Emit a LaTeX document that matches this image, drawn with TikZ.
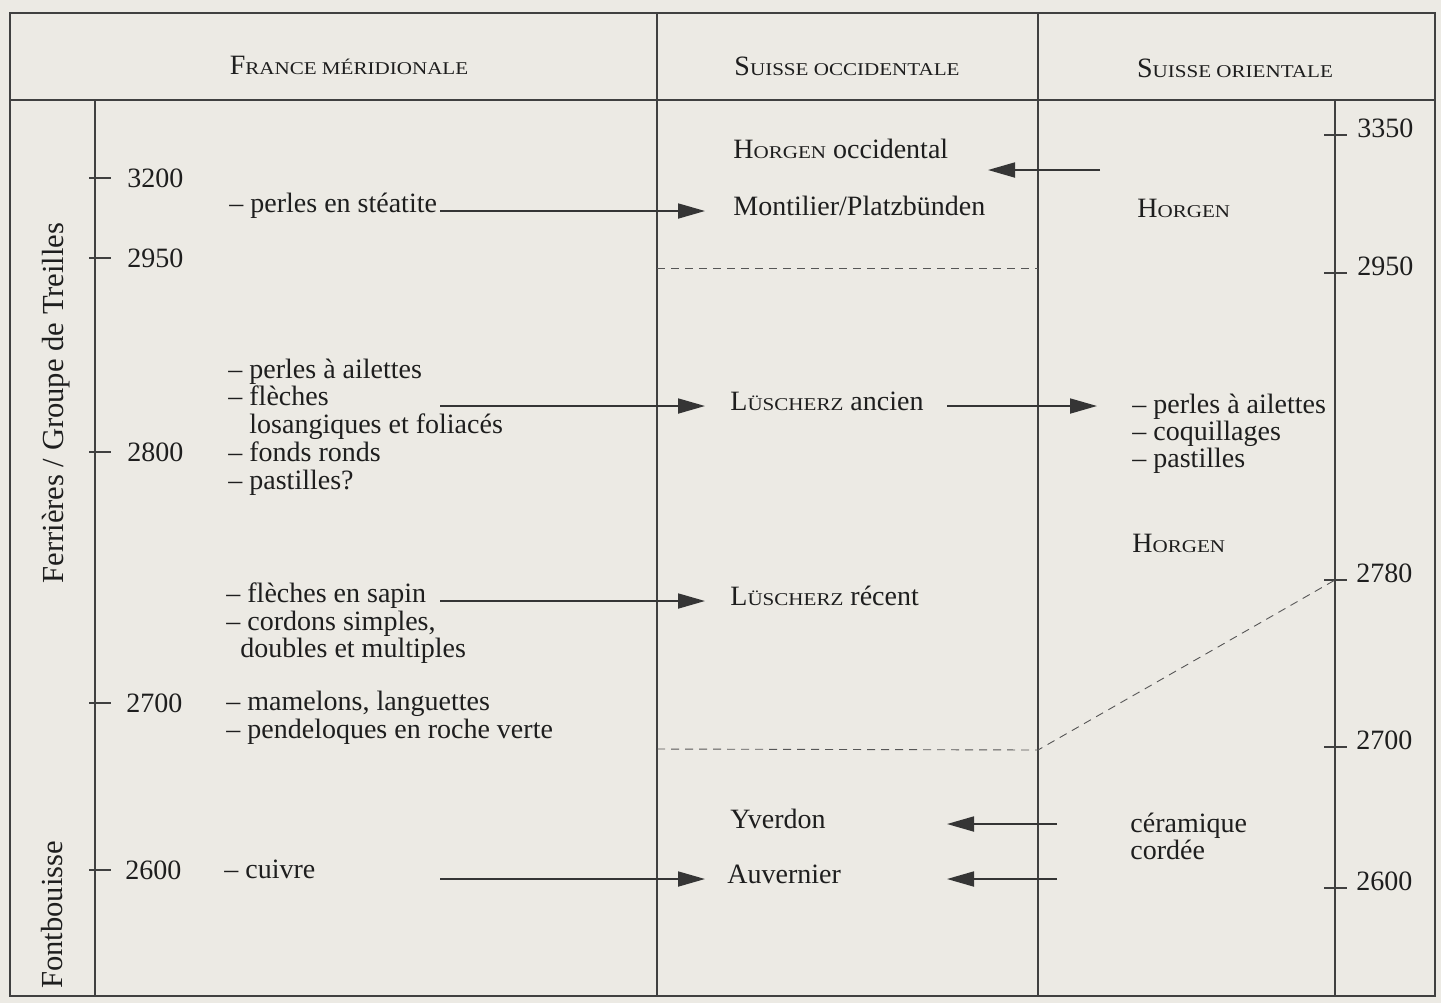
\documentclass[tikz,border=0pt]{standalone}
\usepackage{fontspec}
\setmainfont{Liberation Serif}
\newfontfamily\scfont[FakeStretch=1.17]{Liberation Serif}
\usetikzlibrary{arrows.meta}
\definecolor{papier}{RGB}{236,234,228}
\definecolor{encre}{RGB}{30,30,30}
\newcommand{\petcap}[2]{#1{\fontsize{9}{11}\scfont #2}}

\begin{document}
\begin{tikzpicture}[x=0.5pt,y=-0.5pt,
  txt/.style={anchor=base west,inner sep=0pt,text=encre,font=\fontsize{14}{16}\selectfont},
  titre/.style={txt,anchor=base},
  anneeG/.style={txt,anchor=west},
  anneeD/.style={txt},
  vertical/.style={txt,anchor=base,rotate=90,font=\fontsize{15.3}{17}\selectfont},
  trait/.style={encre!85,line width=0.6pt},
  tiret/.style={encre!75,line width=0.45pt,dash pattern=on 4pt off 3pt},
  fleche/.style={encre!90,line width=0.9pt,-{Triangle[length=13.5pt,width=7.5pt]},transform canvas={yshift=2pt}}]
  \fill[papier] (0,0) rectangle (1441,1003); %fond
  \useasboundingbox (0,0) rectangle (1441,1003);
  \draw[trait] (10,13) rectangle (1435,996); %cadre
  \draw[trait] (10,100) -- (1435,100); %ligne des titres
  \draw[trait] (657,13) -- (657,996); %colonne 1 | 2
  \draw[trait] (1038,13) -- (1038,996); %colonne 2 | 3
  \draw[trait] (95,100) -- (95,996); %axe gauche
  \draw[trait] (1335,100) -- (1335,996); %axe droit

  \node[titre] (france) at (349,74) {\petcap{F}{RANCE MÉRIDIONALE}}; %titres
  \node[titre] (suisseOcc) at (847,75) {\petcap{S}{UISSE OCCIDENTALE}};
  \node[titre] (suisseOr) at (1235,77) {\petcap{S}{UISSE ORIENTALE}};

  \node[vertical] (ferrieres) at (63,403) {Ferrières / Groupe de Treilles}; %groupes
  \node[vertical] (fontbouisse) at (62,915) {Fontbouisse};

  \draw[trait] (89,178) -- (111,178); %graduation gauche
  \draw[trait] (89,258) -- (111,258);
  \draw[trait] (89,452) -- (111,452);
  \draw[trait] (89,703) -- (111,703);
  \draw[trait] (89,870) -- (111,870);
  \node[anneeG] (g3200) at (127,178) {3200};
  \node[anneeG] (g2950) at (127,258) {2950};
  \node[anneeG] (g2800) at (127,452) {2800};
  \node[anneeG] (g2700) at (126,703) {2700};
  \node[anneeG] (g2600) at (125,870) {2600};

  \draw[trait] (1324,135) -- (1347,135); %graduation droite
  \draw[trait] (1324,273) -- (1347,273);
  \draw[trait] (1324,580) -- (1347,580);
  \draw[trait] (1324,747) -- (1347,747);
  \draw[trait] (1324,888) -- (1347,888);
  \node[anneeD] (d3350) at (1357,137) {3350};
  \node[anneeD] (d2950) at (1357,275) {2950};
  \node[anneeD] (d2780) at (1356,582) {2780};
  \node[anneeD] (d2700) at (1356,749) {2700};
  \node[anneeD] (d2600) at (1356,890) {2600};

  \draw[tiret] (657,268) -- (1038,268); %limite 2950
  \draw[tiret] (657,749) -- (1038,750) -- (1335,580); %limite 2700/2780

  \node[txt] (steatite) at (229,212) {– perles en stéatite}; %France
  \node[txt] (perlesG) at (228,378) {– perles à ailettes};
  \node[txt] (fleches) at (228,405) {– flèches};
  \node[txt] (losang) at (249,433) {losangiques et foliacés};
  \node[txt] (fonds) at (228,461) {– fonds ronds};
  \node[txt] (pastG) at (228,489) {– pastilles?};
  \node[txt] (sapin) at (226,602) {– flèches en sapin};
  \node[txt] (cordons) at (226,630) {– cordons simples,};
  \node[txt] (doubles) at (240,657) {doubles et multiples};
  \node[txt] (mamelons) at (226,710) {– mamelons, languettes};
  \node[txt] (pendeloques) at (226,738) {– pendeloques en roche verte};
  \node[txt] (cuivre) at (224,878) {– cuivre};

  \node[txt] (horgenOcc) at (733,158) {\petcap{H}{ORGEN} occidental}; %Suisse occ.
  \node[txt] (montilier) at (733,215) {Montilier/Platzbünden};
  \node[txt] (luscherzA) at (730,410) {\petcap{L}{ÜSCHERZ} ancien};
  \node[txt] (luscherzR) at (730,605) {\petcap{L}{ÜSCHERZ} récent};
  \node[txt] (yverdon) at (730,828) {Yverdon};
  \node[txt] (auvernier) at (727,883) {Auvernier};

  \node[txt] (horgenD) at (1137,217) {\petcap{H}{ORGEN}}; %Suisse or.
  \node[txt] (perlesD) at (1132,413) {– perles à ailettes};
  \node[txt] (coquill) at (1132,440) {– coquillages};
  \node[txt] (pastD) at (1132,467) {– pastilles};
  \node[txt] (horgenD2) at (1132,552) {\petcap{H}{ORGEN}};
  \node[txt] (ceramique) at (1130,832) {céramique};
  \node[txt] (cordee) at (1130,859) {cordée};

  \coordinate (gpied) at (440,0); %departs et pointes
  \coordinate (gpointe) at (705,0);
  \coordinate (dpointe) at (947,0);
  \coordinate (dpied) at (1057,0);
  \coordinate (hpied) at (1100,174);
  \coordinate (hpointe) at (988,174);

  \draw[fleche] (montilier.base -| gpied) -- (montilier.base -| gpointe); %fleches
  \draw[fleche] (luscherzA.base -| gpied) -- (luscherzA.base -| gpointe);
  \draw[fleche] (luscherzR.base -| gpied) -- (luscherzR.base -| gpointe);
  \draw[fleche] (auvernier.base -| gpied) -- (auvernier.base -| gpointe);
  \draw[fleche,shorten >=17.5pt] (luscherzA.base -| dpointe) -- (luscherzA.base -| perlesD.west);
  \draw[fleche] (hpied) -- (hpointe);
  \draw[fleche] (yverdon.base -| dpied) -- (yverdon.base -| dpointe);
  \draw[fleche] (auvernier.base -| dpied) -- (auvernier.base -| dpointe);
\end{tikzpicture}
\end{document}
